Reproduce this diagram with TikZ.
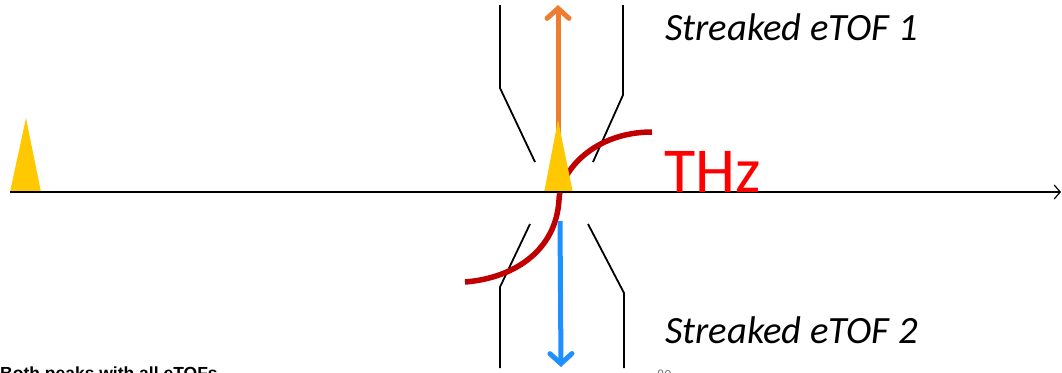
\documentclass[tikz,border=0pt]{standalone}
\usepackage{fontspec}
\setmainfont{Carlito}
\newfontfamily\labelsans{Liberation Sans}
\usetikzlibrary{arrows.meta}
\definecolor{pulse}{HTML}{FFC800}
\definecolor{orangeray}{HTML}{ED7D31}
\definecolor{blueray}{HTML}{1E90FF}
\definecolor{thzcurve}{HTML}{C00000}
\definecolor{thztext}{HTML}{FF0000}
\definecolor{pagenum}{HTML}{7F7F7F}
\tikzset{
  tube/.style={draw=black, line width=1.8pt, line join=miter},
  ray/.style={line width=5pt, line cap=butt, -{Straight Barb[length=10,width=22,line width=5pt,line cap=round]}},
  pulseshape/.style={fill=pulse, draw=none},
  detlabel/.style={anchor=base west, inner sep=0pt, font=\fontsize{38.6}{46}\selectfont\itshape},
}
\begin{document}
\begin{tikzpicture}[x=1pt,y=-1pt]
\useasboundingbox (0,0) rectangle (1062,372);
\clip (0,0) rectangle (1062,372);
% named points
\coordinate (axL) at (10,192);
\coordinate (axR) at (1061,192);
\coordinate (oStart) at (558,190);
\coordinate (oEnd) at (558,5);
\coordinate (bStart) at (560,221);
\coordinate (bEnd) at (561,367);
% eTOF outlines
\draw[tube] (500,5) -- (500,88) -- (535,162);
\draw[tube] (623,5) -- (623,95) -- (593,162);
\draw[tube] (500,368) -- (500,287) -- (530,224);
\draw[tube] (624,368) -- (624,293) -- (588,224);
% orange ray
\draw[ray, orangeray] (oStart) -- (oEnd);
% THz field
\draw[thzcurve, line width=5.5pt] (465,282) .. controls (515,278) and (556,250) .. (559,200)
   .. controls (560,170) and (595,132) .. (652,132);
% blue ray
\draw[ray, blueray] (bStart) -- (bEnd);
% pulses
\fill[pulseshape] (10,192) -- (26,118) -- (41,192) -- cycle;
\fill[pulseshape] (544,193) -- (558,120) -- (573,193) -- cycle;
% axis
\draw[line width=1.6pt, -{Straight Barb[length=6,width=14,line width=1.2pt]}] (axL) -- (axR);
% labels
\node[detlabel] (etof1) at (665,40) {Streaked eTOF 1};
\node[detlabel] (etof2) at (665,343) {Streaked eTOF 2};
\node[anchor=base west, inner sep=0pt, text=thztext, font=\fontsize{64}{76}\selectfont] (thz) at (664,192) {THz};
\node[anchor=base west, inner sep=0pt, font=\labelsans\bfseries\fontsize{17.5}{20}\selectfont] (foot) at (0,379.5) {Both peaks with all eTOFs};
\node[anchor=base west, inner sep=0pt, text=pagenum, font=\fontsize{14}{16}\selectfont] (pnum) at (657,379) {80};
\end{tikzpicture}
\end{document}
